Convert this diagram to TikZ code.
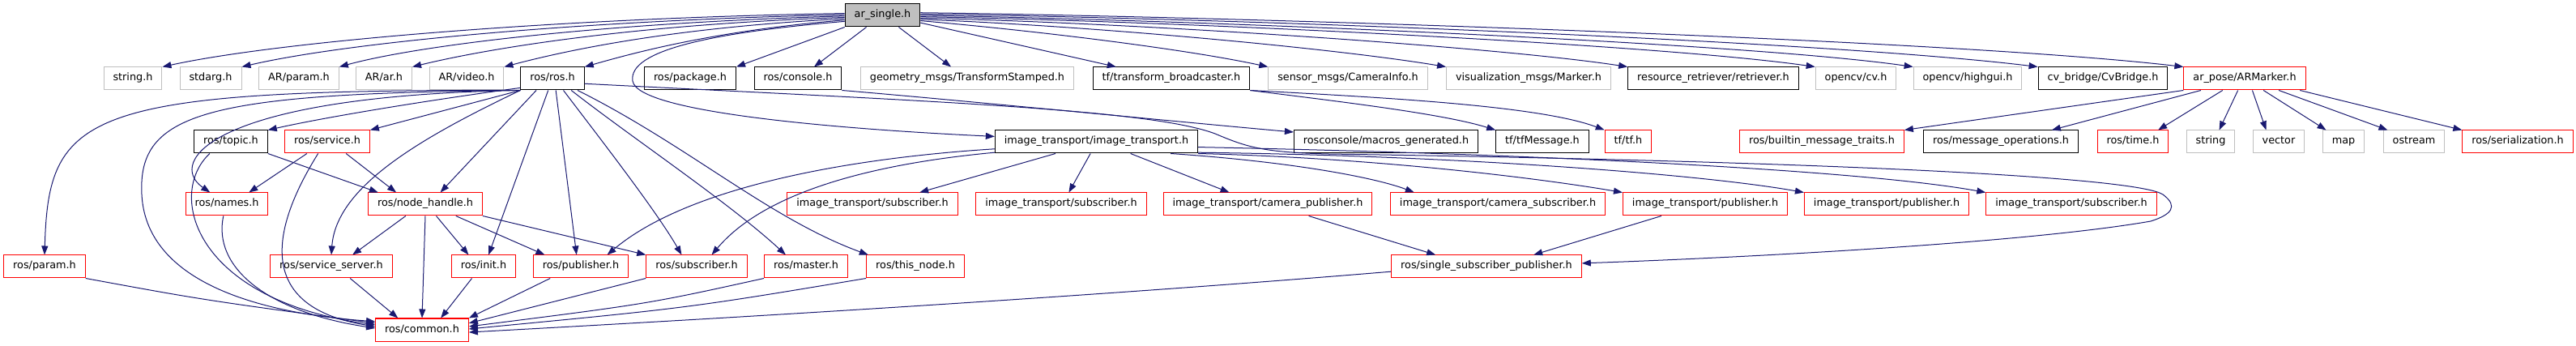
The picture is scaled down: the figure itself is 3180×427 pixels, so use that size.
\documentclass[tikz,border=0pt]{standalone}
\usepackage{fontspec}
\setmainfont{DejaVu Sans}
\usetikzlibrary{arrows.meta}
\definecolor{edgeBlue}{HTML}{191970}
\definecolor{boxRed}{HTML}{FF0000}
\definecolor{boxGrey}{HTML}{BFBFBF}

\begin{document}
\begin{tikzpicture}[x=1pt,y=-1pt,
    hdr/.style={draw=black,line width=1pt,fill=white,minimum height=28pt,inner xsep=11.5pt,inner ysep=0pt,
      text height=9pt,text depth=3pt,font=\fontsize{12.8}{14}\selectfont},
    hdrred/.style={hdr,draw=boxRed},
    hdrgrey/.style={hdr,draw=boxGrey},
    hdrroot/.style={hdr,fill=boxGrey},
    inc/.style={draw=edgeBlue,line width=1pt,-{Triangle[length=11pt,width=8pt]}}]
        \useasboundingbox (0,0) rectangle (3180,427);

        % Root
        \node[hdrroot] (root) at (1089.5,19) {ar\_single.h};

        % First level
        \node[hdrgrey] (string) at (164,97) {string.h};
        \node[hdrgrey] (stdarg) at (260,97) {stdarg.h};
        \node[hdrgrey] (arparam) at (369,97) {AR/param.h};
        \node[hdrgrey] (arar) at (474,97) {AR/ar.h};
        \node[hdrgrey] (arvideo) at (576,97) {AR/video.h};
        \node[hdr] (rosros) at (682,97) {ros/ros.h};
        \node[hdr] (package) at (852,97) {ros/package.h};
        \node[hdr] (console) at (985,97) {ros/console.h};
        \node[hdrgrey] (geomsgs) at (1194,97) {geometry\_msgs/TransformStamped.h};
        \node[hdr] (tfbroad) at (1446,97) {tf/transform\_broadcaster.h};
        \node[hdrgrey] (caminfo) at (1664,97) {sensor\_msgs/CameraInfo.h};
        \node[hdrgrey] (marker) at (1887,97) {visualization\_msgs/Marker.h};
        \node[hdr] (retriever) at (2115,97) {resource\_retriever/retriever.h};
        \node[hdrgrey] (cv) at (2291,97) {opencv/cv.h};
        \node[hdrgrey] (highgui) at (2429,97) {opencv/highgui.h};
        \node[hdr] (cvbridge) at (2596,97) {cv\_bridge/CvBridge.h};
        \node[hdrred] (armarker) at (2771,97) {ar\_pose/ARMarker.h};

        % Second level
        \node[hdr] (topic) at (285,175) {ros/topic.h};
        \node[hdrred] (service) at (404,175) {ros/service.h};
        \node[hdr] (itrans) at (1353.5,175) {image\_transport/image\_transport.h};
        \node[hdr] (macros) at (1711,175) {rosconsole/macros\_generated.h};
        \node[hdr] (tfmsg) at (1904,175) {tf/tfMessage.h};
        \node[hdrred] (tftf) at (2010,175) {tf/tf.h};
        \node[hdrred] (builtin) at (2249,175) {ros/builtin\_message\_traits.h};
        \node[hdr] (msgops) at (2470,175) {ros/message\_operations.h};
        \node[hdrred] (rostime) at (2633,175) {ros/time.h};
        \node[hdrgrey] (stdstring) at (2729,175) {string};
        \node[hdrgrey] (vector) at (2813,175) {vector};
        \node[hdrgrey] (map) at (2893,175) {map};
        \node[hdrgrey] (ostream) at (2980,175) {ostream};
        \node[hdrred] (serial) at (3108,175) {ros/serialization.h};

        % Third level
        \node[hdrred] (names) at (280,252) {ros/names.h};
        \node[hdrred] (nodehandle) at (525,252) {ros/node\_handle.h};
        \node[hdrred] (itsubA) at (1077,252) {image\_transport/subscriber.h};
        \node[hdrred] (itsubB) at (1310,252) {image\_transport/subscriber.h};
        \node[hdrred] (itcampub) at (1565,252) {image\_transport/camera\_publisher.h};
        \node[hdrred] (itcamsub) at (1849,252) {image\_transport/camera\_subscriber.h};
        \node[hdrred] (itpubA) at (2105,252) {image\_transport/publisher.h};
        \node[hdrred] (itpubB) at (2329,252) {image\_transport/publisher.h};
        \node[hdrred] (itsubC) at (2557,252) {image\_transport/subscriber.h};

        % Fourth level
        \node[hdrred] (param) at (55,329) {ros/param.h};
        \node[hdrred] (srvserver) at (409,329) {ros/service\_server.h};
        \node[hdrred] (init) at (597,329) {ros/init.h};
        \node[hdrred] (publisher) at (717,329) {ros/publisher.h};
        \node[hdrred] (subscriber) at (860,329) {ros/subscriber.h};
        \node[hdrred] (master) at (995,329) {ros/master.h};
        \node[hdrred] (thisnode) at (1130,329) {ros/this\_node.h};
        \node[hdrred] (ssp) at (1835,329) {ros/single\_subscriber\_publisher.h};

        % Bottom
        \node[hdrred] (common) at (521,407) {ros/common.h};

        % Includes of the root
        \draw[inc] (root.177) .. controls (700,22) and (350,50) .. (string.north east);
        \draw[inc] (root.179) .. controls (720,25) and (430,52) .. (stdarg.north east);
        \draw[inc] (root.181) .. controls (750,28) and (520,55) .. (arparam.north east);
        \draw[inc] (root.183) .. controls (790,30) and (610,58) .. (arar.north east);
        \draw[inc] (root.185) .. controls (830,34) and (700,62) .. (arvideo.north east);
        \draw[inc] (root.187) .. controls (880,38) and (780,66) .. (rosros.north east);
        \draw[inc] (root.189) .. controls (880,40) and (775,62) .. (781,100)
          .. controls (787,140) and (1050,160) .. (itrans.177);
        \draw[inc] (root.south west) -- (package.north east);
        \draw[inc] (root.216) -- (console.36);
        \draw[inc] (root.324) -- (geomsgs.144);
        \draw[inc] (root.349) -- (tfbroad.168);
        \draw[inc] (root.352) .. controls (1300,40) and (1470,62) .. (caminfo.north west);
        \draw[inc] (root.354) .. controls (1350,32) and (1650,60) .. (marker.north west);
        \draw[inc] (root.356) .. controls (1400,28) and (1850,58) .. (retriever.north west);
        \draw[inc] (root.358) .. controls (1450,26) and (2050,55) .. (cv.north west);
        \draw[inc] (root.0) .. controls (1450,24) and (2150,52) .. (highgui.north west);
        \draw[inc] (root.2) .. controls (1500,22) and (2250,50) .. (cvbridge.north west);
        \draw[inc] (root.4) .. controls (1500,20) and (2400,48) .. (armarker.north west);

        % ros/ros.h
        \draw[inc] (rosros.196) .. controls (520,125) and (400,145) .. (topic.north east);
        \draw[inc] (rosros.south west) -- (service.north east);
        \draw[inc] (rosros.south west) .. controls (100,110) and (60,140) .. (param.north);
        \draw[inc] (rosros.south west) .. controls (250,115) and (170,140) .. (175,240)
          .. controls (180,340) and (300,385) .. (common.170);
        \draw[inc] (rosros.south west) .. controls (260,118) and (205,200) .. (names.145);
        \draw[inc] (rosros.south west) .. controls (520,170) and (415,230) .. (srvserver.north);
        \draw[inc] (rosros.216) -- (nodehandle.38);
        \draw[inc] (rosros.250) -- (init.67);
        \draw[inc] (rosros.286) -- (publisher.110);
        \draw[inc] (rosros.313) .. controls (740,170) and (810,260) .. (subscriber.142);
        \draw[inc] (rosros.328) .. controls (780,170) and (900,250) .. (master.150);
        \draw[inc] (rosros.335) .. controls (850,180) and (950,270) .. (thisnode.166);
        \draw[inc] (rosros.351) .. controls (1150,125) and (1420,135) .. (1500,165)
          .. controls (1540,182) and (1560,188) .. (1640,190)
          .. controls (2300,200) and (2640,220) .. (2670,240)
          .. controls (2690,255) and (2680,265) .. (2655,273)
          .. controls (2500,300) and (2150,318) .. (ssp.2);

        % ros/topic.h, ros/service.h, ros/names.h
        \draw[inc] (topic.south east) -- (nodehandle.166);
        \draw[inc] (topic.209) .. controls (205,240) and (240,370) .. (common.174);
        \draw[inc] (service.210) -- (names.28);
        \draw[inc] (service.232) .. controls (330,290) and (320,380) .. (common.176);
        \draw[inc] (service.328) -- (nodehandle.158);
        \draw[inc] (names.254) .. controls (262,330) and (330,385) .. (common.178);
        \draw[inc] (param.south east) .. controls (250,370) .. (common.172);

        % ros/node_handle.h
        \draw[inc] (nodehandle.211) -- (srvserver.29);
        \draw[inc] (nodehandle.south) -- (common.north);
        \draw[inc] (nodehandle.313) -- (init.142);
        \draw[inc] (nodehandle.339) -- (publisher.162);
        \draw[inc] (nodehandle.south east) -- (subscriber.north west);

        % Down to ros/common.h
        \draw[inc] (srvserver.328) -- (common.154);
        \draw[inc] (init.225) -- (common.32);
        \draw[inc] (publisher.201) -- (common.north east);
        \draw[inc] (subscriber.south west) -- (common.8);
        \draw[inc] (master.south west) .. controls (800,375) .. (common.4);
        \draw[inc] (thisnode.south west) .. controls (850,380) .. (common.1);
        \draw[inc] (ssp.183) .. controls (1300,370) and (800,398) .. (common.357);

        % Console and tf
        \draw[inc] (console.south east) .. controls (1200,125) and (1450,150) .. (macros.174);
        \draw[inc] (tfbroad.south east) .. controls (1650,125) and (1780,140) .. (tfmsg.north west);
        \draw[inc] (tfbroad.south east) .. controls (1700,120) and (1900,130) .. (tftf.north west);

        % image_transport/image_transport.h
        \draw[inc] (itrans.196) -- (itsubA.14);
        \draw[inc] (itrans.243) -- (itsubB.57);
        \draw[inc] (itrans.341) -- (itcampub.163);
        \draw[inc] (itrans.351) .. controls (1600,200) and (1700,220) .. (itcamsub.172);
        \draw[inc] (itrans.south east) .. controls (1700,195) and (1900,220) .. (itpubA.north west);
        \draw[inc] (itrans.354) .. controls (1800,192) and (2100,215) .. (itpubB.north west);
        \draw[inc] (itrans.357) .. controls (1900,190) and (2300,210) .. (itsubC.north west);
        \draw[inc] (itrans.184) .. controls (1050,195) and (850,230) .. (publisher.24);
        \draw[inc] (itrans.186) .. controls (1100,200) and (950,230) .. (subscriber.38);
        \draw[inc] (itcampub.344) -- (ssp.167);
        \draw[inc] (itpubA.195) -- (ssp.14);

        % ar_pose/ARMarker.h
        \draw[inc] (armarker.south west) -- (builtin.north east);
        \draw[inc] (armarker.195) -- (msgops.13);
        \draw[inc] (armarker.208) -- (rostime.25);
        \draw[inc] (armarker.240) -- (stdstring.54);
        \draw[inc] (armarker.303) -- (vector.137);
        \draw[inc] (armarker.328) -- (map.146);
        \draw[inc] (armarker.341) -- (ostream.156);
        \draw[inc] (armarker.348) -- (serial.north west);
      \end{tikzpicture}
\end{document}
